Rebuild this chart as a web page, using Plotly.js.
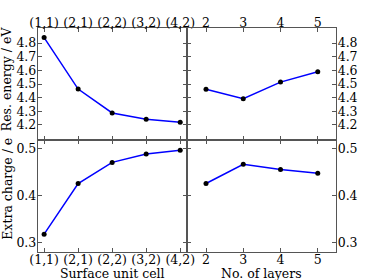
<!DOCTYPE html>
<html>
<head>
<meta charset="utf-8">
<script src="https://cdn.plot.ly/plotly-3.0.1.min.js"></script>
<style>html,body{margin:0;padding:0;background:#fff;}#chart{width:374px;height:280px;}</style>
</head>
<body>
<div id="chart"></div>
<script>
// Data
const cellLabels = ["(1,1)", "(2,1)", "(2,2)", "(3,2)", "(4,2)"];
const cellIndex = [0, 1, 2, 3, 4];
const cellEnergy = [4.84, 4.463, 4.288, 4.242, 4.22];
const cellCharge = [0.317, 0.425, 0.470, 0.488, 0.496];

const layers = [2, 3, 4, 5];
const layerEnergy = [4.462, 4.392, 4.514, 4.589];
const layerCharge = [0.425, 0.466, 0.455, 0.447];

const energyTicks = [4.2, 4.3, 4.4, 4.5, 4.6, 4.7, 4.8];
const chargeTicks = [0.3, 0.4, 0.5];

const FONT = "DejaVu Serif, Liberation Serif, serif";
const FS = 12.5;
const line = {color: "#0000ff", width: 1.5};
const marker = {color: "#000000", size: 5};

function tr(x, y, xa, ya) {
  return {x: x, y: y, xaxis: xa, yaxis: ya, type: "scatter", mode: "lines+markers",
          line: line, marker: marker, showlegend: false, hoverinfo: "none"};
}

const data = [
  tr(cellIndex, cellCharge, "x", "y"),
  tr(layers, layerCharge, "x2", "y2"),
  tr(cellIndex, cellEnergy, "x3", "y3"),
  tr(layers, layerEnergy, "x4", "y4")
];

const base = {
  showline: true, mirror: "ticks", linecolor: "#555", linewidth: 1.2,
  ticks: "inside", ticklen: 4, tickcolor: "#555", tickwidth: 1,
  showgrid: false, zeroline: false,
  tickfont: {family: FONT, size: FS, color: "#000"}
};

function ax(extra) { return Object.assign({}, base, extra); }

const cellRange = [-0.18, 4.2];
const layerRange = [1.49, 5.49];
const energyRange = [4.09, 4.91];
const chargeRange = [0.279, 0.5177];

const layout = {
  width: 374, height: 280,
  margin: {l: 38, r: 38, t: 28, b: 28},
  paper_bgcolor: "#fff", plot_bgcolor: "#fff",
  font: {family: FONT, size: FS, color: "#000"},
  xaxis: ax({domain: [0, 0.5], range: cellRange, tickvals: cellIndex, ticktext: cellLabels, anchor: "y", side: "bottom", ticklabelstandoff: -4}),
  xaxis2: ax({domain: [0.5, 1], range: layerRange, tickvals: layers, anchor: "y2", side: "bottom", ticklabelstandoff: -4}),
  xaxis3: ax({domain: [0, 0.5], range: cellRange, tickvals: cellIndex, ticktext: cellLabels, anchor: "y3", side: "top", ticklabelstandoff: -5}),
  xaxis4: ax({domain: [0.5, 1], range: layerRange, tickvals: layers, anchor: "y4", side: "top", ticklabelstandoff: -5}),
  yaxis: ax({domain: [0, 0.5], range: chargeRange, tickvals: chargeTicks, anchor: "x", side: "left", ticklabelstandoff: -2}),
  yaxis2: ax({domain: [0, 0.5], range: chargeRange, tickvals: chargeTicks, anchor: "x2", side: "right", ticklabelstandoff: -2}),
  yaxis3: ax({domain: [0.5, 1], range: energyRange, tickvals: energyTicks, anchor: "x3", side: "left", ticklabelstandoff: -2}),
  yaxis4: ax({domain: [0.5, 1], range: energyRange, tickvals: energyTicks, anchor: "x4", side: "right", ticklabelstandoff: -2}),
  annotations: [
    {text: "Surface unit cell", xref: "paper", yref: "paper", x: 0.25, y: -0.096, xanchor: "center", yanchor: "middle", showarrow: false, font: {family: FONT, size: FS}},
    {text: "No. of layers", xref: "paper", yref: "paper", x: 0.75, y: -0.096, xanchor: "center", yanchor: "middle", showarrow: false, font: {family: FONT, size: FS}},
    {text: "Res. energy / eV", xref: "paper", yref: "paper", x: -0.105, y: 0.7746, xanchor: "center", yanchor: "middle", textangle: -90, showarrow: false, font: {family: FONT, size: FS}},
    {text: "Extra charge / e", xref: "paper", yref: "paper", x: -0.105, y: 0.281, xanchor: "center", yanchor: "middle", textangle: -90, showarrow: false, font: {family: FONT, size: FS}}
  ]
};

Plotly.newPlot("chart", data, layout, {staticPlot: true, displayModeBar: false});
</script>
</body>
</html>
